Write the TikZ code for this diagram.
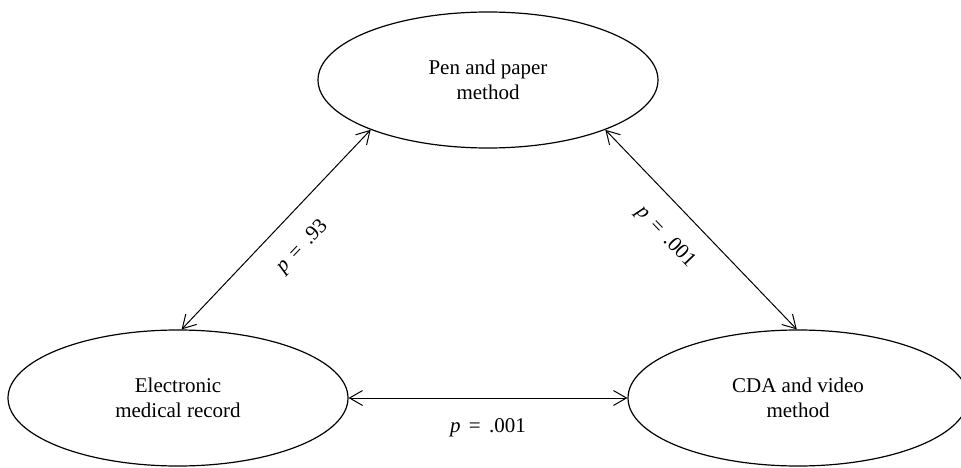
\documentclass[tikz,border=0pt]{standalone}
\usepackage{fontspec}
\setmainfont{Liberation Serif}
\usetikzlibrary{shapes.geometric,arrows.meta}
\newcommand{\peq}[1]{\textit{p}\hspace{0.4em}=\hspace{0.4em}#1}
\begin{document}
\begin{tikzpicture}[x=1pt,y=1pt,
  oval/.style={ellipse, draw, line width=1.2pt, minimum width=340pt, minimum height=136pt, inner sep=0pt, align=center, font=\fontsize{21}{24}\selectfont},
  link/.style={line width=1pt, {Straight Barb[length=13pt,width=15pt]}-{Straight Barb[length=13pt,width=15pt]}},
  plabel/.style={font=\fontsize{21}{24}\selectfont, inner sep=1pt}]
\useasboundingbox (0,0) rectangle (961,-468);
\node[oval] (pen) at (488,-80) {Pen and paper\\[1pt]method};
\node[oval] (emr) at (178,-398) {Electronic\\[1pt]medical record};
\node[oval] (cda) at (798,-398) {CDA and video\\[1pt]method};
\draw[link] (emr.87) -- node[plabel, sloped, below=31pt, pos=0.52, anchor=center] {\peq{.93}} (pen.203);
\draw[link] (pen.337) -- node[plabel, sloped, below=31pt, pos=0.43, anchor=center] {\peq{.001}} (cda.91);
\draw[link] (emr.east) -- node[plabel, below=30pt, anchor=center] {\peq{.001}} (cda.west);
\end{tikzpicture}
\end{document}
